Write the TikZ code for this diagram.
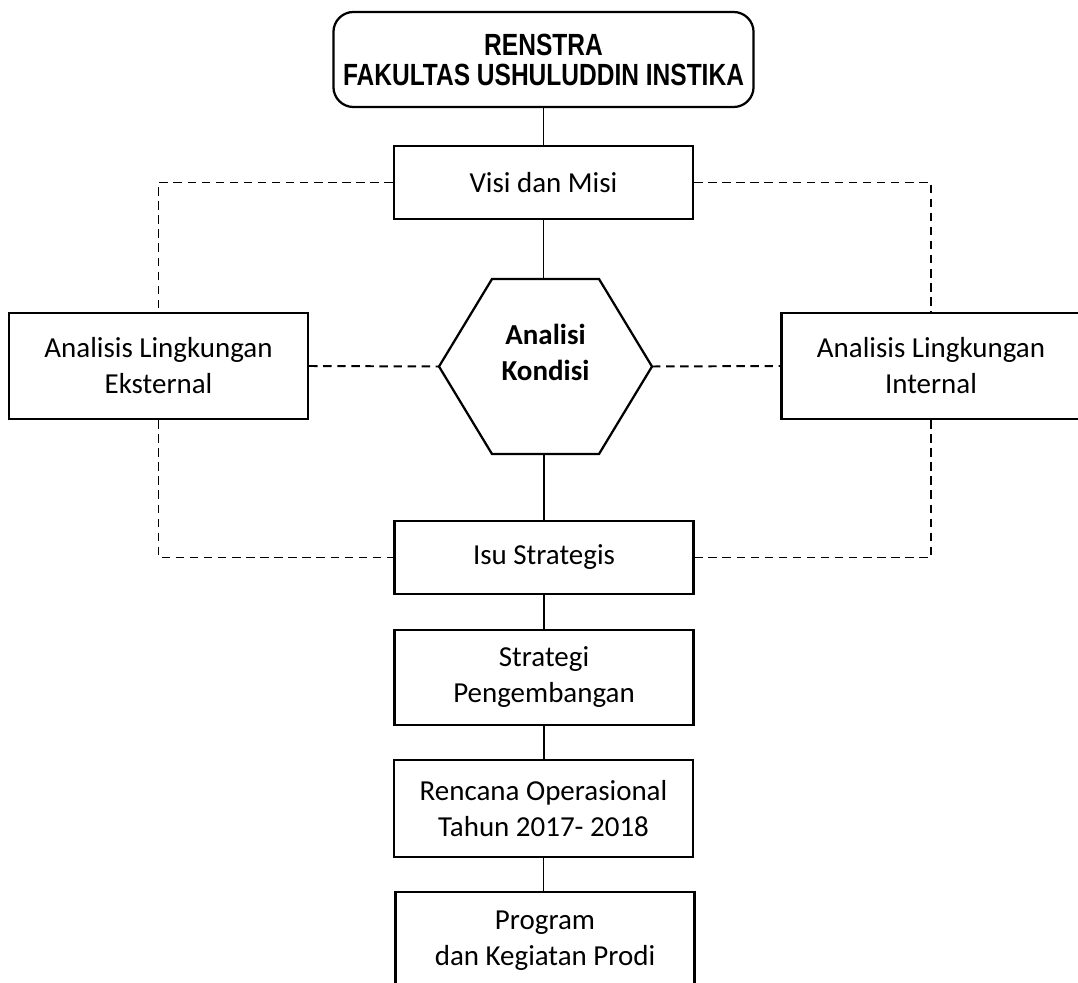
\documentclass[tikz,border=0pt]{standalone}
\usepackage{fontspec}
\setmainfont{Carlito}
\newfontfamily\titlefont[FakeStretch=0.8]{Liberation Sans}
\usetikzlibrary{positioning}

\begin{document}
\begin{tikzpicture}[x=0.025cm,y=-0.025cm,
  box/.style={draw,line width=1.6pt,minimum width=7.475cm,align=center,inner sep=0pt,
    font=\fontsize{20.6pt}{25.6pt}\selectfont},
  link/.style={line width=1.4pt},
  dashlink/.style={line width=1.4pt,dash pattern=on 6pt off 4pt}]
  \clip (0,0) rectangle (1078,983);

  \node [box,rounded corners=0.5cm,minimum width=10.5cm,minimum height=2.375cm,
    font=\titlefont\bfseries\fontsize{21.8pt}{21.3pt}\selectfont] (renstra) at (543.5,59.5)
    {RENSTRA\\FAKULTAS USHULUDDIN INSTIKA};

  \node [box,minimum height=1.825cm] (visi) at (543.5,182.5) {Visi dan Misi};

  % hexagon
  \node [align=center,font=\bfseries\fontsize{20.6pt}{25.6pt}\selectfont] (kondisi) at (545.5,352) {Analisi\\Kondisi};
  \draw [line width=1.6pt] (439,366.5) coordinate (hexW) -- (492,279) -- (599,279)
    -- (652,366.5) coordinate (hexE) -- (599,454) -- (492,454) -- cycle;
  \coordinate (hexN) at (545.5,279);
  \coordinate (hexS) at (545.5,454);

  \node [box,minimum height=2.65cm] (ekst) at (158.5,366) {Analisis Lingkungan\\Eksternal};
  \node [box,minimum height=2.65cm] (intern) at (931,366) {Analisis Lingkungan\\Internal};

  \node [box,minimum height=1.825cm] (isu) at (544,557.5) {Isu Strategis};
  \node [box,minimum height=2.375cm] (strat) at (544,677.5) {Strategi\\Pengembangan};
  \node [box,minimum height=2.425cm] (renc) at (543.5,808.5) {Rencana Operasional\\Tahun 2017- 2018};
  \node [box,minimum height=2.425cm] (prog) at (545,940.5) {Program\\dan Kegiatan Prodi};

  \draw [link] (renstra.south) -- (visi.north);
  \draw [link] (visi.south) -- (visi.south |- hexN);
  \draw [link] (isu.north |- hexS) -- (isu.north);
  \draw [link] (isu.south) -- (isu.south |- strat.north);
  \draw [link] (strat.south) -- (strat.south |- renc.north);
  \draw [link] (renc.south) -- (renc.south |- prog.north);

  \draw [dashlink] (visi.west) -| (ekst.north);
  \draw [dashlink] (visi.east) -| (intern.north);
  \draw [dashlink] (ekst.east) -- (hexW);
  \draw [dashlink] (hexE) -- (intern.west);
  \draw [dashlink] (ekst.south) |- (isu.west);
  \draw [dashlink] (intern.south) |- (isu.east);
\end{tikzpicture}
\end{document}
